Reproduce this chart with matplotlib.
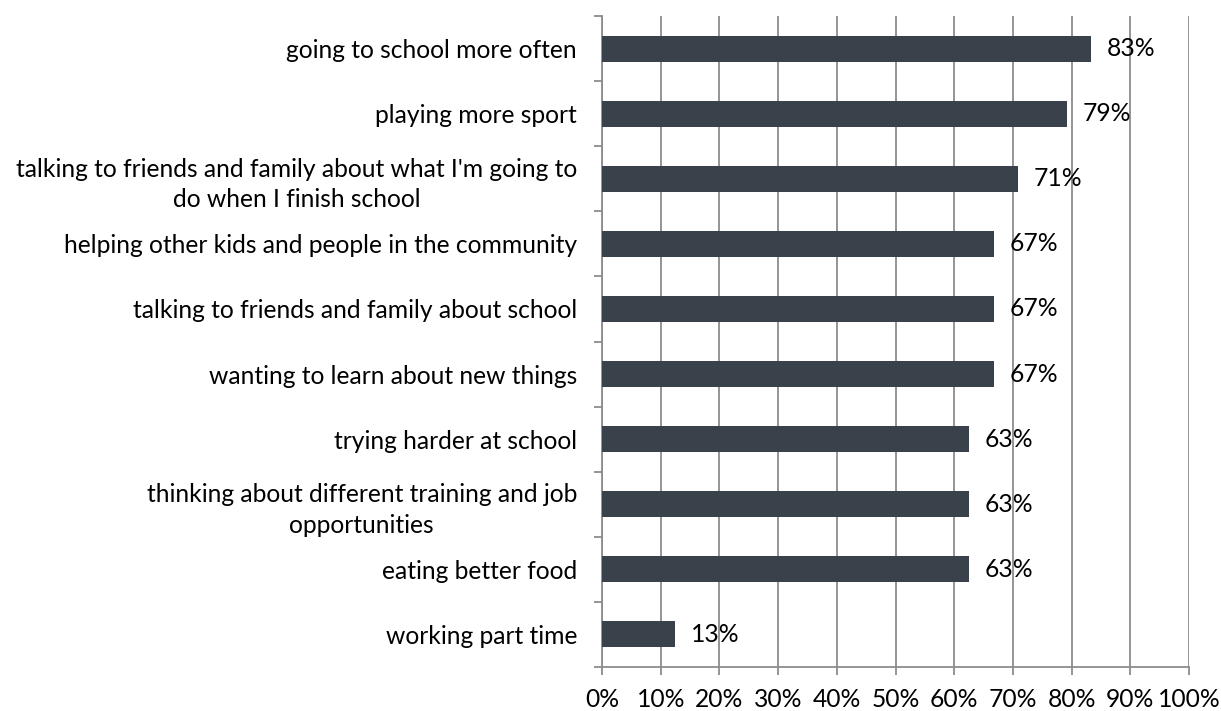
import matplotlib
matplotlib.use("Agg")
import matplotlib.pyplot as plt
from matplotlib.ticker import FixedLocator, NullFormatter

categories = [
    "going to school more often",
    "playing more sport",
    "talking to friends and family about what I'm going to\ndo when I finish school",
    "helping other kids and people in the community",
    "talking to friends and family about school",
    "wanting to learn about new things",
    "trying harder at school",
    "thinking about different training and job\nopportunities",
    "eating better food",
    "working part time",
]
values = [0.833, 0.792, 0.708, 0.667, 0.667, 0.667, 0.625, 0.625, 0.625, 0.125]
value_labels = ["83%", "79%", "71%", "67%", "67%", "67%", "63%", "63%", "63%", "13%"]
xticks = [i / 10 for i in range(11)]
xtick_labels = [f"{i*10}%" for i in range(11)]

plt.rcParams['font.family'] = ['Lato', 'DejaVu Sans']
fs = 17.7

fig = plt.figure(figsize=(12.21, 7.11), dpi=100)
ax = fig.add_axes([602/1221, 1 - 667/711, (1189-602)/1221, (667-16)/711])

n = len(categories)
ypos = list(range(n))
bar_color = "#39424a"
ax.barh(ypos, values, height=0.4, color=bar_color, zorder=3)
ax.set_ylim(n - 0.5, -0.5)
ax.set_xlim(0, 1)

grid_color = "#8c8c8c"
ax.set_xticks(xticks)
ax.set_xticklabels(xtick_labels, fontsize=fs, color="#000000")
ax.xaxis.grid(True, color=grid_color, linewidth=1.3, zorder=0)
ax.yaxis.grid(False)

ax.set_yticks(ypos)
ax.set_yticklabels(categories, fontsize=fs, ha="right", multialignment="center",
                   linespacing=1.4)
ax.tick_params(axis="y", which="major", length=0, pad=18)
ax.yaxis.set_minor_locator(FixedLocator([i - 0.5 for i in range(n + 1)]))
ax.yaxis.set_minor_formatter(NullFormatter())
ax.tick_params(axis="y", which="minor", length=6, width=1.3, color=grid_color, direction="out")
ax.tick_params(axis="x", which="major", length=6, width=1.3, color=grid_color, direction="out", pad=9)

for s in ["top", "right"]:
    ax.spines[s].set_visible(False)
for s in ["left", "bottom"]:
    ax.spines[s].set_color(grid_color)
    ax.spines[s].set_linewidth(1.3)

for y, v, lab in zip(ypos, values, value_labels):
    ax.annotate(lab, (v, y), xytext=(11.5, 0), textcoords="offset points",
                va="center", ha="left", fontsize=fs, color="#000000", zorder=4)

fig.savefig("out.png", dpi=100, facecolor="white")
